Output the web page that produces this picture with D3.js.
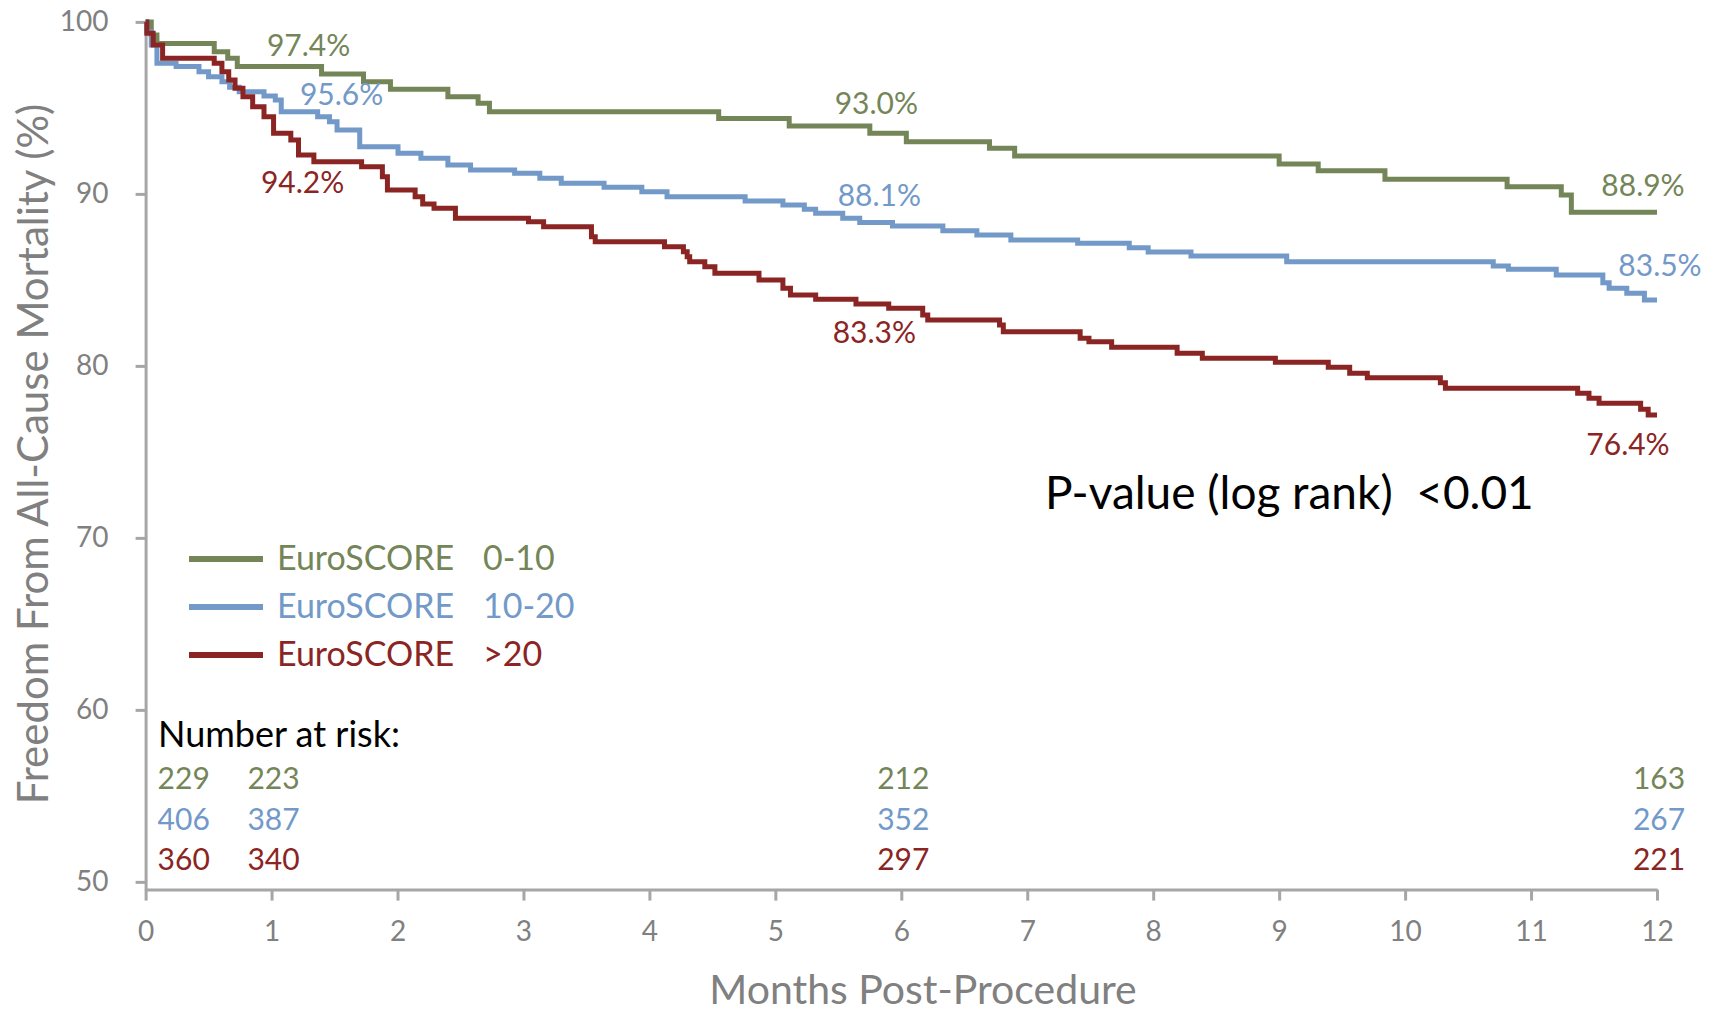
<!DOCTYPE html>
<html>
<head>
<meta charset="utf-8">
<script src="https://cdn.jsdelivr.net/npm/d3@7"></script>
<style>
  body { margin: 0; background: #fff; }
  svg { display: block; font-family: Lato, "Open Sans", sans-serif; }
</style>
</head>
<body>
<svg id="chart" width="1716" height="1010"></svg>
<script>
// Kaplan-Meier step points (month, survival %)
const monthsLow = [0, 0.045, 0.09, 0.545, 0.652, 0.728, 1.397, 1.73, 1.944, 2.4, 2.64, 2.73, 4.55, 5.11, 5.75, 6.04, 6.7, 6.9, 9.0, 9.31, 9.84, 10.81, 11.24, 11.32, 12]
const survLow = [100, 99.24, 98.75, 98.27, 97.88, 97.4, 96.97, 96.52, 96.08, 95.65, 95.27, 94.78, 94.39, 93.95, 93.52, 93.03, 92.65, 92.2, 91.74, 91.35, 90.85, 90.42, 89.94, 88.93, 88.93]

const monthsMid = [0, 0.01, 0.045, 0.09, 0.242, 0.424, 0.5, 0.606, 0.667, 0.743, 0.94, 1.03, 1.077, 1.366, 1.46, 1.52, 1.7, 2.004, 2.186, 2.4, 2.58, 2.93, 3.13, 3.3, 3.64, 3.94, 4.14, 4.76, 5.06, 5.23, 5.32, 5.535, 5.67, 5.93, 6.33, 6.6, 6.87, 7.4, 7.81, 7.96, 8.3, 9.06, 10.7, 10.82, 11.2, 11.57, 11.62, 11.76, 11.9, 12]
const survMid = [100, 99.43, 98.66, 97.59, 97.4, 97.1, 96.81, 96.52, 96.2, 95.94, 95.69, 95.46, 94.78, 94.49, 94.2, 93.72, 92.74, 92.36, 92.07, 91.68, 91.39, 91.2, 90.91, 90.62, 90.38, 90.13, 89.84, 89.59, 89.35, 89.1, 88.87, 88.58, 88.33, 88.13, 87.86, 87.61, 87.32, 87.13, 86.87, 86.62, 86.39, 86.06, 85.81, 85.62, 85.29, 84.84, 84.51, 84.22, 83.83, 83.83]

const monthsHigh = [0, 0.01, 0.06, 0.135, 0.545, 0.606, 0.66, 0.71, 0.773, 0.85, 0.94, 1.016, 1.153, 1.214, 1.336, 1.715, 1.88, 1.92, 2.14, 2.2, 2.29, 2.46, 3.04, 3.16, 3.54, 3.57, 4.12, 4.27, 4.3, 4.32, 4.44, 4.52, 4.87, 5.06, 5.12, 5.32, 5.64, 5.9, 6.17, 6.21, 6.78, 6.81, 7.42, 7.49, 7.67, 8.19, 8.39, 8.97, 9.39, 9.56, 9.7, 10.28, 10.32, 11.37, 11.46, 11.54, 11.87, 11.93, 12]
const survHigh = [100, 99.34, 98.66, 97.88, 97.59, 97.1, 96.62, 96.14, 95.65, 95.07, 94.49, 93.52, 93.13, 92.26, 91.87, 91.58, 91.0, 90.23, 89.84, 89.41, 89.16, 88.58, 88.38, 88.09, 87.51, 87.22, 86.93, 86.64, 86.35, 86.06, 85.77, 85.38, 84.99, 84.51, 84.12, 83.87, 83.6, 83.35, 82.96, 82.67, 82.38, 81.99, 81.6, 81.41, 81.08, 80.73, 80.44, 80.21, 79.92, 79.57, 79.31, 79.02, 78.7, 78.41, 78.12, 77.83, 77.48, 77.15, 77.15]

const groupLabels = ["0-10", "10-20", ">20"]
const colors = ["#748558", "#7299c8", "#8b2524"]

// survival annotations at months 1, 6, 12
const labelMonths = [1, 6, 12]
const labelsLow = [97.4, 93.0, 88.9]
const labelsMid = [95.6, 88.1, 83.5]
const labelsHigh = [94.2, 83.3, 76.4]

// number at risk
const riskMonths = [0, 1, 6, 12]
const riskLow = [229, 223, 212, 163]
const riskMid = [406, 387, 352, 267]
const riskHigh = [360, 340, 297, 221]

const xTicks = d3.range(0, 13)
const yTicks = [50, 60, 70, 80, 90, 100]

const svg = d3.select("#chart")

const x = d3.scaleLinear().domain([0, 12]).range([145.6, 1657])
const y = d3.scaleLinear().domain([49.55, 100]).range([889.6, 21.9])

const axisColor = "#a6a6a6", textGray = "#808080"

// axes
const gy = svg.append("g")
    .attr("transform", "translate(" + x(0) + ",0)")
    .call(d3.axisLeft(y).tickValues(yTicks).tickSize(10).tickSizeOuter(0).tickPadding(27))
const gx = svg.append("g")
    .attr("transform", "translate(0," + y(49.55) + ")")
    .call(d3.axisBottom(x).tickValues(xTicks).tickSize(11).tickSizeOuter(0).tickPadding(21))

;[gx, gy].forEach(g => {
    g.select(".domain").attr("stroke", axisColor).attr("stroke-width", 3)
    g.selectAll(".tick line").attr("stroke", axisColor).attr("stroke-width", 3)
    g.selectAll(".tick text").attr("fill", textGray)
        .style("font-family", "Lato, sans-serif").style("font-size", "28px")
})

// axis titles
svg.append("text")
    .attr("transform", "translate(48,454) rotate(-90)")
    .attr("text-anchor", "middle")
    .attr("fill", textGray)
    .style("font-size", "42px")
    .text("Freedom From All-Cause Mortality (%)")

svg.append("text")
    .attr("x", 923).attr("y", 1004)
    .attr("text-anchor", "middle")
    .attr("fill", textGray)
    .style("font-size", "41px")
    .text("Months Post-Procedure")

// curves
const curves = [
    {months: monthsLow, surv: survLow},
    {months: monthsMid, surv: survMid},
    {months: monthsHigh, surv: survHigh}
]

const line = d3.line()
    .x(d => x(d[0]))
    .y(d => y(d[1]))
    .curve(d3.curveStepAfter)

svg.append("g").selectAll("path")
    .data(curves)
    .enter()
    .append("path")
    .attr("d", d => line(d.months.map((m, i) => [m, d.surv[i]])))
    .attr("fill", "none")
    .attr("stroke", (d, i) => colors[i])
    .attr("stroke-width", 5)

// survival labels; pixel offsets from the point on the curve
const labelSets = [labelsLow, labelsMid, labelsHigh]
const labelOffsets = [
    [[37, -11], [-25, -28], [-14, -17]],
    [[70, 7], [-22, -21], [3, -30]],
    [[31, 71], [-27, 34], [-29, 27]]
]
labelSets.forEach((vals, s) => {
    svg.append("g").selectAll("text")
        .data(vals)
        .enter()
        .append("text")
        .attr("x", (d, i) => x(labelMonths[i]) + labelOffsets[s][i][0])
        .attr("y", (d, i) => y(d) + labelOffsets[s][i][1])
        .attr("text-anchor", "middle")
        .attr("fill", colors[s])
        .style("font-size", "30px")
        .text(d => d.toFixed(1) + "%")
})

// p-value
svg.append("text")
    .attr("x", 1045).attr("y", 509)
    .attr("fill", "#000")
    .style("font-size", "46px")
    .style("white-space", "pre")
    .text("P-value (log rank)  <0.01")

// legend
const legend = svg.append("g").selectAll("g")
    .data(groupLabels)
    .enter()
    .append("g")
    .attr("transform", (d, i) => "translate(0," + (559 + i * 48) + ")")

legend.append("line")
    .attr("x1", 189).attr("x2", 263)
    .attr("stroke", (d, i) => colors[i])
    .attr("stroke-width", 6)

legend.append("text")
    .attr("x", 277).attr("y", 11)
    .attr("fill", (d, i) => colors[i])
    .style("font-size", "34px")
    .text("EuroSCORE")

legend.append("text")
    .attr("x", 483).attr("y", 11)
    .attr("fill", (d, i) => colors[i])
    .style("font-size", "34px")
    .text(d => d)

// number at risk
svg.append("text")
    .attr("x", 158).attr("y", 747)
    .attr("fill", "#000")
    .style("font-size", "36px")
    .text("Number at risk:")

const riskSets = [riskLow, riskMid, riskHigh]
riskSets.forEach((vals, s) => {
    svg.append("g").selectAll("text")
        .data(vals)
        .enter()
        .append("text")
        .attr("x", (d, i) => riskMonths[i] === 0 ? x(0) + 12 : x(riskMonths[i]) + 2)
        .attr("y", 789 + s * 40.5)
        .attr("text-anchor", (d, i) => riskMonths[i] === 0 ? "start" : "middle")
        .attr("fill", colors[s])
        .style("font-size", "30px")
        .text(d => d)
})
</script>
</body>
</html>
